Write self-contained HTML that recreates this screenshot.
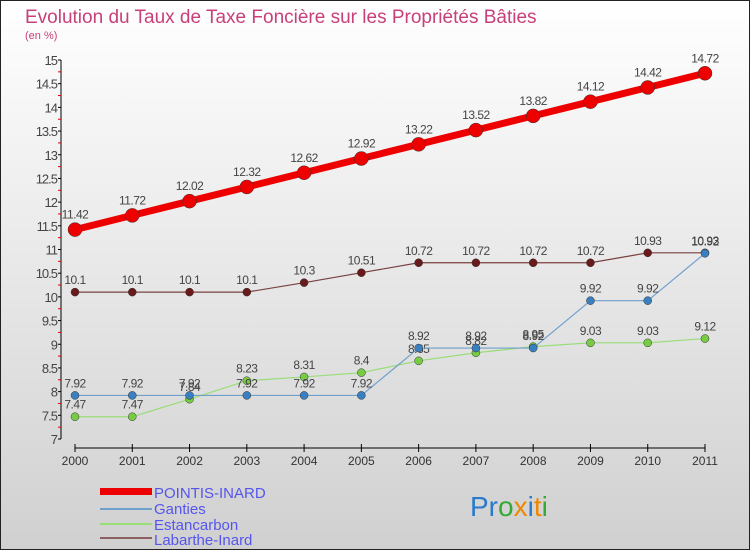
<!DOCTYPE html>
<html><head><meta charset="utf-8"><style>
body{margin:0}
#c{width:750px;height:550px;position:relative;overflow:hidden;font-family:"Liberation Sans",sans-serif;box-sizing:border-box;border:1px solid #222;background:linear-gradient(#ffffff,#d0d0d0)}
</style></head><body>
<div id="c">
<svg id="s" width="750" height="550" style="position:absolute;left:-1px;top:-1px">
<text x="25" y="23" font-size="19" fill="#c8407a">Evolution du Taux de Taxe Foncière sur les Propriétés Bâties</text>
<text x="25" y="39" font-size="11" fill="#c8407a">(en %)</text>
<g id="ax"></g><g id="ser"></g>
<g font-size="15" fill="#5555ee">
<rect x="100" y="488" width="52" height="7" fill="#ee0000"/>
<text x="154" y="498">POINTIS-INARD</text>
<rect x="100" y="508" width="52" height="2" fill="#6fa0cc"/>
<text x="154" y="514">Ganties</text>
<rect x="100" y="523" width="52" height="2" fill="#99dd77"/>
<text x="154" y="530">Estancarbon</text>
<rect x="100" y="537" width="52" height="2" fill="#8a6060"/>
<text x="154" y="545">Labarthe-Inard</text>
</g>
<text x="470" y="516" font-size="28"><tspan fill="#2a7acc">Pr</tspan><tspan fill="#33aa33">o</tspan><tspan fill="#ee8800">x</tspan><tspan fill="#2a7acc">i</tspan><tspan fill="#ee8800">t</tspan><tspan fill="#33aa33">i</tspan></text>
</svg>
</div>
<script>
const years=[2000,2001,2002,2003,2004,2005,2006,2007,2008,2009,2010,2011];
const yTicks=[7,7.5,8,8.5,9,9.5,10,10.5,11,11.5,12,12.5,13,13.5,14,14.5,15];
const pointis=[11.42,11.72,12.02,12.32,12.62,12.92,13.22,13.52,13.82,14.12,14.42,14.72];
const ganties=[7.92,7.92,7.92,7.92,7.92,7.92,8.92,8.92,8.92,9.92,9.92,10.92];
const estancarbon=[7.47,7.47,7.84,8.23,8.31,8.4,8.65,8.82,8.95,9.03,9.03,9.12];
const labarthe=[10.1,10.1,10.1,10.1,10.3,10.51,10.72,10.72,10.72,10.72,10.93,10.93];
const NS="http://www.w3.org/2000/svg";
const X=i=>75+i*(630/11), Y=v=>439-(v-7)*(379/8);
function mk(t,a,p){const e=document.createElementNS(NS,t);for(const k in a)e.setAttribute(k,a[k]);p.appendChild(e);return e;}
const ax=document.getElementById('ax');
const yl=mk('line',{x1:61,y1:60,x2:61,y2:439,stroke:'#000'},ax);


yTicks.forEach(v=>{
 mk('line',{x1:58,x2:61,y1:Y(v),y2:Y(v),stroke:'#000'},ax);
 mk('line',{x1:58,x2:61,y1:Y(v+0.25),y2:Y(v+0.25),stroke:v<15?'#d00':'none'},ax);
 const t=mk('text',{x:57,y:Y(v)+5,'font-size':13,'text-anchor':'end',fill:'#444','letter-spacing':'-1'},ax);
 t.textContent=v;
 
 
});
const xl=mk('line',{x1:75,y1:448,x2:705,y2:448,stroke:'#000'},ax);


years.forEach((y,i)=>{
 mk('line',{x1:X(i),x2:X(i),y1:444,y2:452,stroke:'#000'},ax);
 const t=mk('text',{x:X(i),y:465,'font-size':12,'text-anchor':'middle',fill:'#333'},ax);
 t.textContent=y;
 
 
});
const ser=document.getElementById('ser');
function draw(vals,color,dot,w,r,name,labOff){
 const g=mk('g',{},ser);
 
 
 mk('polyline',{points:vals.map((v,i)=>X(i)+','+Y(v)).join(' '),fill:'none',stroke:color,'stroke-width':w},g);
 vals.forEach((v,i)=>{
  const c=mk('circle',{cx:X(i),cy:Y(v),r:r,fill:dot,stroke:'#333','stroke-width':0.5},g);
  
  
  const t=mk('text',{x:X(i),y:Y(v)-labOff,'font-size':12,'text-anchor':'middle',fill:'#444','letter-spacing':'-0.5'},g);
  t.textContent=v;
  
  
 });
}
draw(labarthe,'#7a4040','#6a1a1a',1.2,4,'labarthe',8);
draw(estancarbon,'#99dd77','#77cc44',1.2,4,'estancarbon',8);
draw(ganties,'#6fa0cc','#3a80c0',1.2,4,'ganties',8);
draw(pointis,'#ee0000','#ee0000',7,7,'pointis',11);
</script>
</body></html>
